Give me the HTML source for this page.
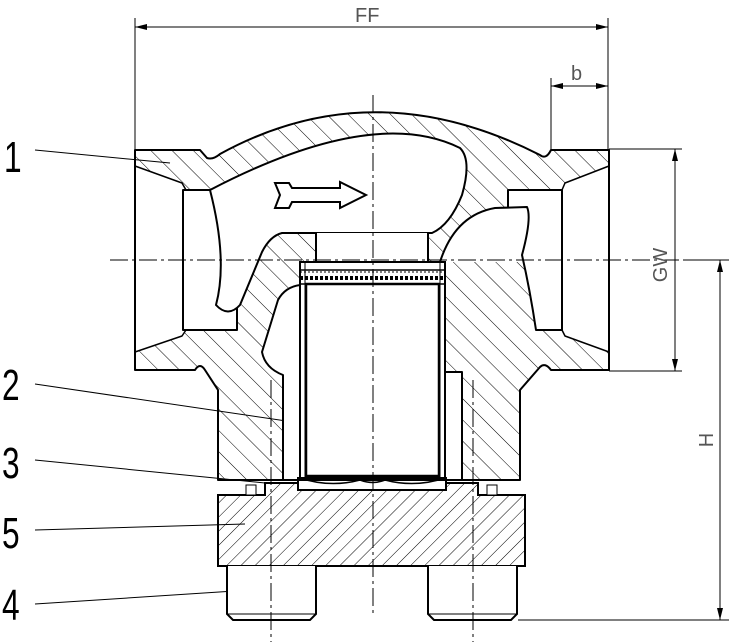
<!DOCTYPE html>
<html><head><meta charset="utf-8"><style>html,body{margin:0;padding:0;background:#fff}svg{display:block}</style></head>
<body>
<svg width="729" height="642" viewBox="0 0 729 642" xmlns="http://www.w3.org/2000/svg" font-family="Liberation Sans, sans-serif">
<defs>
<pattern id="h1" width="15" height="15" patternUnits="userSpaceOnUse" patternTransform="rotate(-45)"><line x1="0" y1="0" x2="0" y2="15" stroke="#000" stroke-width="1"/></pattern>
<pattern id="h2" width="10" height="10" patternUnits="userSpaceOnUse" patternTransform="rotate(45)"><line x1="0" y1="0" x2="0" y2="10" stroke="#000" stroke-width="1"/></pattern>
<marker id="ar" viewBox="0 0 12 6" refX="12" refY="3" markerWidth="12" markerHeight="6" orient="auto-start-reverse" markerUnits="userSpaceOnUse"><path d="M0,0 L12,3 L0,6Z" fill="#000"/></marker>
</defs>
<g stroke="#000" fill="none" stroke-width="1">
<line x1="135" y1="18" x2="135" y2="150"/><line x1="608" y1="18" x2="608" y2="150"/>
<line x1="135" y1="27" x2="608" y2="27" marker-start="url(#ar)" marker-end="url(#ar)"/>
<line x1="551" y1="78" x2="551" y2="150"/>
<line x1="551" y1="86" x2="608" y2="86" marker-start="url(#ar)" marker-end="url(#ar)"/>
<line x1="609" y1="149" x2="682" y2="149"/><line x1="609" y1="371" x2="682" y2="371"/>
<line x1="675" y1="149" x2="675" y2="371" marker-start="url(#ar)" marker-end="url(#ar)"/>
<line x1="683" y1="260" x2="729" y2="260"/><line x1="518" y1="620" x2="729" y2="620"/>
<line x1="720" y1="260" x2="720" y2="620" marker-start="url(#ar)" marker-end="url(#ar)"/>
<line x1="35" y1="150" x2="170" y2="163"/>
<line x1="35" y1="384" x2="300" y2="423"/>
<line x1="35" y1="460" x2="265" y2="483"/>
<line x1="35" y1="530" x2="245" y2="524"/>
<line x1="35" y1="604" x2="250" y2="590"/>
</g>
<g stroke="#000" stroke-width="2" stroke-linejoin="round">
<path fill="url(#h1)" d="M135,150 L200,150 L207,158 Q213,160 220,154 Q373,70 540,155 Q546,160 551,150 L609,150 L609,370 L551,370 Q545,362 540,367 L520,390 L520,480 L218,480 L218,390 L205,370 Q200,362 195,370 L135,370 Z"/>
<path fill="#fff" stroke-width="1.5" d="M135,166 L182,183 L186,190 L186,330 L182,336 L135,352 Z"/>
<path fill="#fff" stroke-width="1.5" d="M609,166 L565,183 L562,190 L562,330 L565,336 L609,352 Z"/>
<line x1="135" y1="150" x2="135" y2="370"/><line x1="609" y1="150" x2="609" y2="370"/>
<rect x="183" y="190" width="54" height="140" fill="#fff"/>
<path fill="#fff" d="M210,190 Q373,105 460,148 Q472,160 462,195 Q450,225 432,233 L282,233 Q270,236 262,252 L240,305 Q228,318 216,305 Q228,260 210,190 Z"/>
<path fill="#fff" stroke="none" d="M440,262 Q455,215 495,208 L508,207 L508,190 L562,190 L562,330 L536,330 Q530,290 522,255 L520,262Z"/>
<path fill="none" d="M440,262 Q455,215 495,208 L527,207 Q532,218 522,255 Q530,290 536,330 L562,330 L562,190 L508,190 L508,207"/>
<path fill="#fff" d="M316,233 L316,262 L428,262 L428,233"/>
<path fill="#fff" d="M300,262 L300,285 Q285,287 278,300 L262,352 Q265,368 283,375 L283,480 L462,480 L462,372 L445,372 L445,262 Z"/>
</g>
<g stroke="#000" fill="none">
<rect x="300" y="262" width="145" height="216" fill="#fff" stroke-width="2"/>
<line x1="305" y1="262" x2="305" y2="478" stroke-width="1"/><line x1="440" y1="262" x2="440" y2="478" stroke-width="1"/>
<rect x="306" y="284" width="133" height="192" stroke-width="2.5"/>
<line x1="300" y1="270" x2="445" y2="270" stroke-width="1.5"/><line x1="300" y1="284" x2="445" y2="284" stroke-width="1.5"/>
<line x1="300" y1="278" x2="445" y2="278" stroke-width="4" stroke-dasharray="3,2"/>
<line x1="300" y1="272" x2="445" y2="272" stroke-width="1" stroke-dasharray="2,2"/>
<path d="M300,478 Q330,488 360,480 Q373,485 385,480 Q415,488 445,478" stroke-width="1.5"/>
<rect x="298" y="478" width="148" height="12" stroke-width="2"/>
</g>
<path d="M275,183 L289,183 L292,188 L340,188 L340,182 L366,195 L340,208 L340,202 L292,202 L289,208 L275,208 L280,195 Z" fill="#fff" stroke="#000" stroke-width="2"/>
<g stroke="#000" stroke-width="2">
<path fill="url(#h2)" d="M218,495 L265,495 L265,483 L298,483 L298,490 L446,490 L446,483 L478,483 L478,495 L525,495 L525,566 L218,566 Z"/>
<rect x="246" y="485" width="10" height="10" fill="#fff" stroke-width="1"/>
<rect x="487" y="485" width="10" height="10" fill="#fff" stroke-width="1"/>
<path fill="#fff" d="M227,566 L227,614 L233,620 L310,620 L316,614 L316,566"/>
<path fill="#fff" d="M428,566 L428,614 L434,620 L511,620 L517,614 L517,566"/>
<line x1="227" y1="614" x2="316" y2="614" stroke-width="1"/><line x1="428" y1="614" x2="517" y2="614" stroke-width="1"/>
</g>
<g stroke="#000" stroke-width="1" stroke-dasharray="18,4,3,4">
<line x1="110" y1="260" x2="683" y2="260"/>
<line x1="373" y1="95" x2="373" y2="615"/>
<line x1="271" y1="380" x2="271" y2="642"/>
<line x1="473" y1="380" x2="473" y2="642"/>
</g>
<g fill="#000" font-size="44">
<text x="0" y="0" transform="translate(4,172) scale(0.72,1)">1</text>
<text x="0" y="0" transform="translate(2,400) scale(0.72,1)">2</text>
<text x="0" y="0" transform="translate(2,478) scale(0.72,1)">3</text>
<text x="0" y="0" transform="translate(2,548) scale(0.72,1)">5</text>
<text x="0" y="0" transform="translate(2,620) scale(0.72,1)">4</text>
</g>
<g fill="#555" font-size="20">
<text x="355" y="22">FF</text>
<text x="571" y="80">b</text>
<text x="0" y="0" text-anchor="middle" transform="translate(713,440) rotate(-90)">H</text>
<text x="0" y="0" text-anchor="middle" transform="translate(667,265) rotate(-90)">GW</text>
</g>
</svg>
</body></html>
